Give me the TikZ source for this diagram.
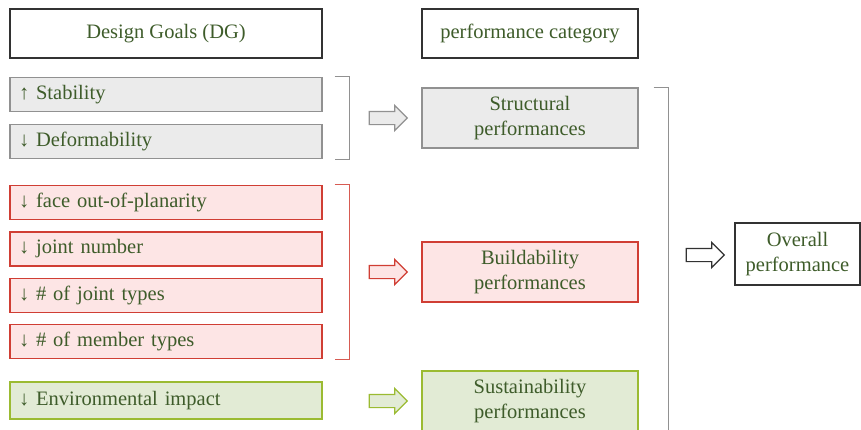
\documentclass[tikz,border=0pt]{standalone}
\usepackage{fontspec}
\setmainfont{Liberation Serif}
\usetikzlibrary{shapes.arrows}

\definecolor{txtgreen}{RGB}{62,92,42}
\definecolor{grayfill}{RGB}{235,235,235}
\definecolor{grayline}{RGB}{145,145,145}
\definecolor{redfill}{RGB}{253,229,229}
\definecolor{redline}{RGB}{208,62,52}
\definecolor{greenfill}{RGB}{226,235,213}
\definecolor{greenline}{RGB}{155,187,50}
\definecolor{boxline}{RGB}{50,50,50}

\tikzset{
  txt/.style={text=txtgreen, font=\fontsize{20.5}{25}\selectfont},
  head/.style={txt, draw=boxline, line width=1.2pt, fill=white, minimum height=49pt, inner sep=0pt},
  goal/.style={txt, line width=1.3pt, text width=294pt, align=left, inner xsep=9pt, inner ysep=0pt, minimum height=34pt},
  perf/.style={txt, line width=1.3pt, text width=200pt, align=center, inner sep=0pt, minimum height=60pt},
  blockarrow/.style={single arrow, draw, line width=1.2pt, inner sep=0pt, text height=6pt, text depth=6pt, minimum height=38pt, single arrow head extend=6pt},
  graybox/.style={draw=grayline, fill=grayfill},
  redbox/.style={draw=redline, fill=redfill},
  greenbox/.style={draw=greenline, fill=greenfill}
}

\begin{document}
\begin{tikzpicture}[x=1pt, y=-1pt]
\useasboundingbox (0,0) rectangle (861,429);
\clip (0,0) rectangle (861,429);
% headings
\node[head, minimum width=312pt] (dg) at (166,33.5) {Design Goals (DG)};
\node[head, minimum width=216pt] (cat) at (530,33.5) {performance category};

% design goals
\node[goal, graybox] (stab) at (166,94.5) {↑ Stability};
\node[goal, graybox] (deform) at (166,141.5) {↓ Deformability};
\node[goal, redbox] (planar) at (166,202.5) {↓ face out-of-planarity};
\node[goal, redbox] (jnum) at (166,249) {↓ joint number};
\node[goal, redbox] (jtypes) at (166,295.5) {↓ \# of joint types};
\node[goal, redbox] (mtypes) at (166,341.5) {↓ \# of member types};
\node[goal, greenbox, minimum height=37pt] (env) at (166,400.5) {↓ Environmental impact};

% brackets
\draw[grayline, line width=1pt] ([xshift=12pt]stab.north east) -| ([xshift=27pt]deform.south east) -- ([xshift=12pt]deform.south east);
\draw[redline!85, line width=1pt] ([xshift=12pt]planar.north east) -| ([xshift=27pt]mtypes.south east) -- ([xshift=12pt]mtypes.south east);

% arrows
\node[blockarrow, draw=grayline, fill=grayfill] (a1) at (385,118) {};
\node[blockarrow, draw=redline, fill=redfill] (a2) at (385,272) {};
\node[blockarrow, draw=greenline, fill=greenfill] (a3) at (385,401) {};

% performance categories
\node[perf, graybox, minimum width=216pt] (struct) at (530,118) {Structural\\performances};
\node[perf, redbox, minimum width=216pt] (build) at (530,272) {Buildability\\performances};
\node[perf, greenbox, minimum width=216pt] (sust) at (530,401) {Sustainability\\performances};

\draw[grayline, line width=1pt] ([xshift=15pt]struct.north east) -| ([xshift=30pt]sust.south east);

% overall
\node[blockarrow, draw=boxline, fill=white] (a4) at (702,255) {};
\node[txt, draw=boxline, line width=1.2pt, align=center, minimum width=125pt, minimum height=62pt, inner sep=0pt] (overall) at (797.5,254) {Overall\\performance};
\end{tikzpicture}
\end{document}
